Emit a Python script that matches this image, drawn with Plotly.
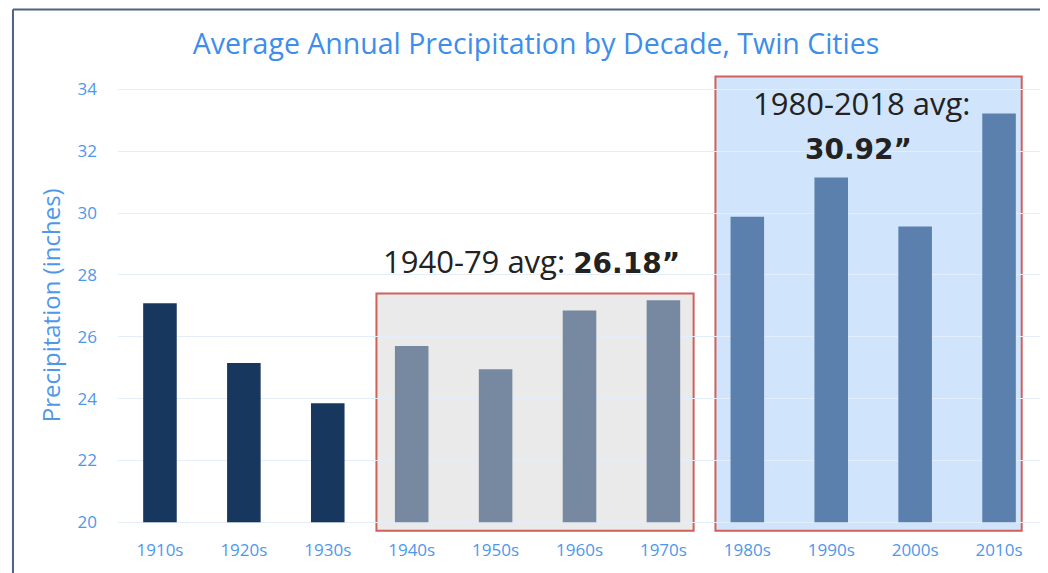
import plotly.graph_objects as go

decades = ["1910s", "1920s", "1930s", "1940s", "1950s", "1960s", "1970s",
           "1980s", "1990s", "2000s", "2010s"]
precip = [27.08, 25.15, 23.85, 25.70, 24.95, 26.85, 27.18, 29.88, 31.15, 29.57, 33.22]
bar_colors = ["#17375E"] * 3 + ["#7789A0"] * 4 + ["#5B80AE"] * 4
baseline = 20
y_ticks = [20, 22, 24, 26, 28, 30, 32, 34]

title_text = "Average Annual Precipitation by Decade, Twin Cities"
y_title = "Precipitation (inches)"
BOLD = "<span style=\"font-family:'DejaVu Sans';font-size:28px\"><b>{}</b></span>"
mid_label = "1940-79 avg: " + BOLD.format("26.18\u201d")
recent_label1 = "1980-2018 avg:"
recent_label2 = BOLD.format("30.92\u201d")

TICK_COLOR = "#4F97EA"
FONT = "Open Sans"

fig = go.Figure()
fig.add_trace(go.Bar(
    x=decades,
    y=[v - baseline for v in precip],
    base=baseline,
    marker=dict(color=bar_colors, line=dict(width=0)),
    width=0.4,
    hovertext=[f"{v:.2f}" for v in precip],
))

# shaded period boxes (category index coordinates)
fig.add_shape(type="rect", xref="x", yref="y", x0=2.58, x1=6.36, y0=19.72, y1=27.4,
              fillcolor="#EAEAEA", line=dict(color="#D0605C", width=2), layer="below")
fig.add_shape(type="rect", xref="x", yref="y", x0=6.62, x1=10.27, y0=19.72, y1=34.42,
              fillcolor="#D0E5FB", line=dict(color="#D0605C", width=2), layer="below")

# outer frame
fig.add_shape(type="line", xref="paper", yref="paper", x0=-0.1138, x1=1.05, y0=1.1404, y1=1.1404,
              line=dict(color="#4D6385", width=2))
fig.add_shape(type="line", xref="paper", yref="paper", x0=-0.1138, x1=-0.1138, y0=-0.2, y1=1.1404,
              line=dict(color="#4D6385", width=2))

fig.add_annotation(x=4.43, y=28.46, xref="x", yref="y", text=mid_label, showarrow=False,
                   font=dict(family=FONT, size=31, color="#222222"))
fig.add_annotation(x=8.37, y=33.55, xref="x", yref="y", text=recent_label1, showarrow=False,
                   font=dict(family=FONT, size=31, color="#222222"))
fig.add_annotation(x=8.32, y=32.05, xref="x", yref="y", text=recent_label2, showarrow=False,
                   font=dict(family=FONT, size=28, color="#222222"))

# y axis title
fig.add_annotation(x=-0.0737, y=0.496, xref="paper", yref="paper", text=y_title,
                   textangle=-90, showarrow=False, xanchor="center", yanchor="middle",
                   font=dict(family=FONT, size=24, color=TICK_COLOR))

fig.update_layout(
    width=1040, height=565,
    margin=dict(l=110, r=7, t=65.5, b=40, autoexpand=False),
    paper_bgcolor="white", plot_bgcolor="white",
    title=dict(text=title_text, x=0.5077, xanchor="center", y=0.936, yanchor="middle",
               font=dict(family=FONT, size=28.5, color="#3D8EEB")),
    showlegend=False,
    bargap=0.6,
    font=dict(family=FONT, color=TICK_COLOR),
)
fig.update_xaxes(
    range=[-0.5, 10.5], showgrid=False, showline=False, zeroline=False, automargin=False,
    tickfont=dict(family=FONT, size=17, color=TICK_COLOR), ticks="", ticklabelstandoff=5,
)
fig.update_yaxes(
    range=[19.65, 34.5], tickvals=y_ticks, showgrid=True, gridcolor="#E3EEFA", gridwidth=1,
    zeroline=False, showline=False, automargin=False,
    tickfont=dict(family=FONT, size=17, color=TICK_COLOR), ticklabelstandoff=20,
)

fig.write_html("out.html")
